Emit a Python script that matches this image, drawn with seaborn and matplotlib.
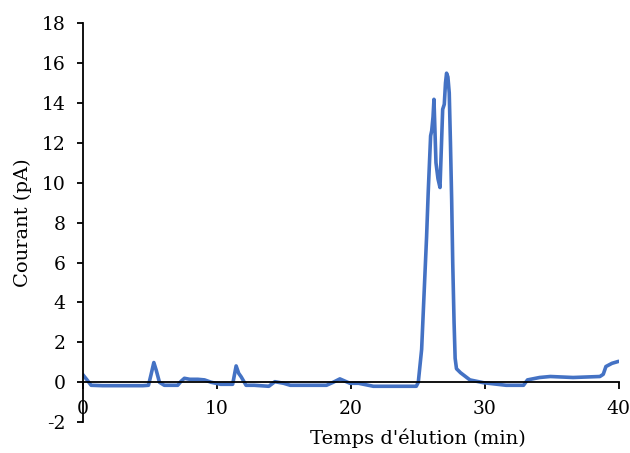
import numpy as np
import pandas as pd
import matplotlib.pyplot as plt
import seaborn as sns

# chromatogram: time (min) and current (pA)
temps = [0.0, 0.3, 0.64, 1.5, 3.0, 4.5, 4.92, 5.1, 5.32, 5.5, 5.74, 6.1, 7.1,
         7.35, 7.6, 8.0, 8.6, 9.1, 9.6, 10.3, 11.2, 11.46, 11.65, 11.84, 12.2,
         12.8, 13.9, 14.35, 15.0, 15.5, 18.2, 18.7, 19.2, 19.95, 20.6, 21.7,
         24.9, 25.05, 25.3, 25.67, 25.79, 25.97, 26.05, 26.15, 26.22, 26.37,
         26.52, 26.67, 26.87, 26.99, 27.08, 27.16, 27.26, 27.36, 27.45, 27.54,
         27.62, 27.72, 27.8, 27.9, 28.2, 28.9, 29.9, 31.6, 32.9, 33.2, 34.1,
         34.9, 36.6, 38.6, 38.85, 39.05, 39.5, 40.0]
courant = [0.4, 0.15, -0.15, -0.17, -0.17, -0.17, -0.15, 0.35, 0.99, 0.6,
           0.0, -0.15, -0.15, 0.05, 0.2, 0.15, 0.15, 0.12, 0.0, -0.1, -0.1,
           0.82, 0.45, 0.27, -0.15, -0.15, -0.2, 0.03, -0.05, -0.15, -0.15,
           0.0, 0.17, -0.05, -0.05, -0.2, -0.2, 0.0, 1.65, 7.3, 9.5, 12.35,
           12.6, 13.3, 14.18, 11.0, 10.2, 9.76, 13.68, 13.93, 15.0, 15.49,
           15.3, 14.5, 12.0, 9.17, 6.0, 3.0, 1.2, 0.68, 0.48, 0.12, -0.02,
           -0.15, -0.15, 0.12, 0.24, 0.29, 0.24, 0.29, 0.4, 0.79, 0.95, 1.05]

df = pd.DataFrame({"temps": temps, "courant": courant})

sns.set_style("ticks")
plt.rcParams["font.family"] = ["DejaVu Serif"]
plt.rcParams["axes.unicode_minus"] = False

fig = plt.figure(figsize=(6.3, 4.53), dpi=100)
ax = fig.add_axes([0.131, 0.068, 0.851, 0.881])

sns.lineplot(data=df, x="temps", y="courant", color="#4472C4",
             linewidth=2.6, ax=ax)
ax.lines[0].set_solid_joinstyle("round")

ax.set_xlim(0, 40)
ax.set_ylim(-2, 18)
ax.set_xticks([0, 10, 20, 30, 40])
ax.set_yticks(np.arange(-2, 19, 2))

# excel style axes: x axis crossing at zero
ax.spines["bottom"].set_position(("data", 0))
ax.spines["top"].set_visible(False)
ax.spines["right"].set_visible(False)
for s in ["left", "bottom"]:
    ax.spines[s].set_color("black")
    ax.spines[s].set_linewidth(1.3)
ax.tick_params(axis="x", direction="out", length=5, width=1.3, pad=8,
               labelsize=13.5, colors="black")
ax.tick_params(axis="y", direction="out", length=4, width=1.3, pad=8,
               labelsize=13.5, colors="black")

ax.set_xlabel("")
ax.set_ylabel("Courant (pA)", fontsize=14, color="black", labelpad=7)
fig.text(0.664, 0.033, "Temps d'élution (min)", fontsize=14, ha="center",
         va="center", color="black")

fig.savefig("out.png", dpi=100)
